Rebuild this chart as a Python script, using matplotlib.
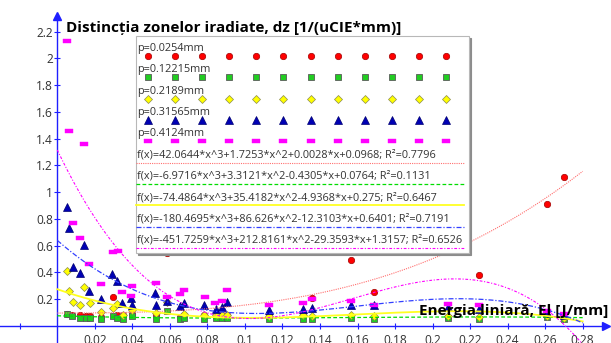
import numpy as np
import matplotlib
matplotlib.use("Agg")
import matplotlib.pyplot as plt
from matplotlib.lines import Line2D
from matplotlib.legend_handler import HandlerBase
from matplotlib.path import Path

plt.rcParams['font.family'] = ['Open Sans', 'DejaVu Sans']

# ---------------- data ----------------
series_labels = ["p=0.0254mm", "p=0.12215mm", "p=0.2189mm", "p=0.31565mm", "p=0.4124mm"]

red_x = [0.0050, 0.0077, 0.0121, 0.0153, 0.0174, 0.0231, 0.0295, 0.0320, 0.0348, 0.0397,
         0.0524, 0.0583, 0.0654, 0.0677, 0.0782, 0.0846, 0.0876, 0.0903, 0.1130, 0.1308,
         0.1356, 0.1564, 0.1688, 0.2084, 0.2248, 0.2609, 0.2701]
red_y = [0.090, 0.085, 0.080, 0.075, 0.075, 0.070, 0.217, 0.080, 0.080, 0.090,
         0.080, 0.542, 0.070, 0.080, 0.080, 0.075, 0.080, 0.085, 0.090, 0.100,
         0.212, 0.492, 0.254, 0.070, 0.380, 0.909, 1.115]

green_x = red_x
green_y = [0.088, 0.075, 0.063, 0.063, 0.063, 0.055, 0.075, 0.063, 0.055, 0.075,
           0.050, 0.112, 0.050, 0.063, 0.050, 0.063, 0.063, 0.063, 0.050, 0.050,
           0.050, 0.060, 0.055, 0.060, 0.050, 0.065, 0.050]

yellow_x = [0.0050, 0.0064, 0.0085, 0.0121, 0.0142, 0.0174, 0.0231, 0.0295, 0.0317, 0.0348,
            0.0397, 0.0524, 0.0583, 0.0677, 0.0782, 0.0846, 0.0876, 0.0903, 0.1130, 0.1308,
            0.1356, 0.1564, 0.1688, 0.2084, 0.2248, 0.2609, 0.2701]
yellow_y = [0.410, 0.262, 0.180, 0.160, 0.292, 0.172, 0.105, 0.135, 0.162, 0.080,
            0.118, 0.097, 0.180, 0.088, 0.080, 0.080, 0.085, 0.080, 0.075, 0.080,
            0.075, 0.080, 0.075, 0.075, 0.067, 0.075, 0.060]

blue_x = [0.0050, 0.0064, 0.0085, 0.0121, 0.0142, 0.0171, 0.0231, 0.0293, 0.0317, 0.0343,
          0.0393, 0.0397, 0.0521, 0.0524, 0.0583, 0.0654, 0.0677, 0.0782, 0.0846, 0.0876,
          0.0903, 0.1130, 0.1308, 0.1356, 0.1564, 0.1688, 0.2084, 0.2248, 0.2609, 0.2701]
blue_y = [0.886, 0.733, 0.442, 0.397, 0.604, 0.262, 0.205, 0.385, 0.335, 0.172,
          0.210, 0.160, 0.247, 0.160, 0.185, 0.150, 0.175, 0.160, 0.130, 0.142,
          0.180, 0.118, 0.130, 0.138, 0.155, 0.155, 0.140, 0.130, 0.100, 0.080]

magenta_x = [0.0053, 0.0064, 0.0082, 0.0121, 0.0144, 0.0171, 0.0231, 0.0295, 0.0325, 0.0343,
             0.0393, 0.0397, 0.0524, 0.0583, 0.0654, 0.0677, 0.0787, 0.0841, 0.0876, 0.0903,
             0.1130, 0.1308, 0.1356, 0.1564, 0.1688, 0.2084, 0.2248, 0.2609, 0.2701]
magenta_y = [2.131, 1.460, 0.771, 0.659, 1.360, 0.467, 0.312, 0.554, 0.561, 0.254,
             0.225, 0.300, 0.325, 0.217, 0.237, 0.272, 0.217, 0.172, 0.185, 0.272,
             0.155, 0.172, 0.205, 0.187, 0.160, 0.168, 0.155, 0.110, 0.093]

# cubic trend lines as printed in the legend (a3, a2, a1, a0) and R^2
trend_coeffs = [
    [42.0644, 1.7253, 0.0028, 0.0968],
    [-6.9716, 3.3121, -0.4305, 0.0764],
    [-74.4864, 35.4182, -4.9368, 0.275],
    [-180.4695, 86.626, -12.3103, 0.6401],
    [-451.7259, 212.8161, -29.3593, 1.3157],
]
trend_r2 = [0.7796, 0.1131, 0.6467, 0.7191, 0.6526]
trend_x_range = (0.0, 0.28)

x_ticks = [-0.02, 0.02, 0.04, 0.06, 0.08, 0.1, 0.12, 0.14, 0.16, 0.18, 0.2, 0.22, 0.24, 0.26, 0.28]
y_ticks = [0.2, 0.4, 0.6, 0.8, 1.0, 1.2, 1.4, 1.6, 1.8, 2.0, 2.2]

title_text = "Distincția zonelor iradiate, dz [1/(uCIE*mm)]"
xlabel_text = "Energia liniară, El [J/mm]"

# ---------------- styles ----------------
AXIS_BLUE = '#1f1fff'
TXT = '#333333'
rect = Path([(-1, -0.36), (1, -0.36), (1, 0.36), (-1, 0.36), (-1, -0.36)],
            [Path.MOVETO, Path.LINETO, Path.LINETO, Path.LINETO, Path.CLOSEPOLY])
marker_styles = [
    dict(marker='o', ms=4.6, mfc='#ff0000', mec='#a00000', mew=0.5),
    dict(marker='s', ms=4.6, mfc='#22cc22', mec='#5a5a5a', mew=0.6),
    dict(marker='D', ms=3.6, mfc='#ffff00', mec='#8a8a50', mew=0.5),
    dict(marker='^', ms=5.2, mfc='#0000b4', mec='#000070', mew=0.5),
    dict(marker=rect, ms=6.2, mfc='#ff00ff', mec='#ff00ff', mew=0.3),
]
trend_styles = [
    dict(color='#ff6f6f', lw=0.8, ls=(0, (1, 1))),
    dict(color='#00dd00', lw=0.9, ls=(0, (3, 1.8))),
    dict(color='#ffff22', lw=1.3, ls='-'),
    dict(color='#3340ff', lw=0.9, ls=(0, (4, 1.5, 1, 1.5))),
    dict(color='#ff00ff', lw=0.8, ls=(0, (2.5, 1.5, 1, 1.5))),
]


def trend_label(c, r2):
    a3, a2, a1, a0 = c
    def s(v):
        return ('+' if v >= 0 else '') + repr(v)
    return f"f(x)={repr(a3)}*x^3{s(a2)}*x^2{s(a1)}*x{s(a0)}; R²={r2}"


# legend rows: label text on top, handle (row of symbols / line) below
ROW_DY = -3.7          # pt below text baseline
MARK_DX0, MARK_STEP, N_MARK = 7.9, 19.5, 12
LINE_X = (-1.1, 235.5)


class RowHandler(HandlerBase):
    def create_artists(self, legend, orig_handle, xdescent, ydescent, width, height,
                       fontsize, trans):
        shift = legend.handletextpad * fontsize
        ls = orig_handle.get_linestyle()
        if ls in ('None', 'none', '', ' '):
            xs = shift + MARK_DX0 + MARK_STEP * np.arange(N_MARK)
        else:
            xs = shift + np.array(LINE_X)
        ys = np.full(len(xs), ROW_DY)
        art = Line2D(xs, ys)
        self.update_prop(art, orig_handle, legend)
        art.set_transform(trans)
        return [art]


# ---------------- figure ----------------
fig = plt.figure(figsize=(6.11, 3.43), dpi=100)
ax = fig.add_axes([0, 0, 1, 1])
ax.set_xlim(-0.03054, 0.2951)
ax.set_ylim(-0.127, 2.4365)

for side in ('top', 'right'):
    ax.spines[side].set_visible(False)
for side in ('left', 'bottom'):
    ax.spines[side].set_position(('data', 0))
    ax.spines[side].set_color(AXIS_BLUE)
    ax.spines[side].set_linewidth(1.0)
ax.spines['left'].set_bounds(-0.127, 2.31)
ax.spines['bottom'].set_bounds(-0.03054, 0.2925)

ax.set_xticks(x_ticks)
ax.set_xticklabels(['' if t <= 0 else f"{t:g}" for t in x_ticks])
ax.set_yticks(y_ticks)
ax.set_yticklabels([f"{t:g}" for t in y_ticks])
ax.tick_params(axis='both', direction='inout', length=4.0, width=0.8, color=AXIS_BLUE,
               labelcolor=TXT, labelsize=8.6)
ax.tick_params(axis='x', pad=4.0)
ax.tick_params(axis='y', pad=1.2)

# axis arrows
ax.plot(0, 0.952, marker='^', ms=5.8, color=AXIS_BLUE, transform=ax.get_xaxis_transform(),
        clip_on=False, zorder=6)
ax.plot(0.9918, 0, marker='>', ms=5.8, color=AXIS_BLUE, transform=ax.get_yaxis_transform(),
        clip_on=False, zorder=6)

xs_all = [red_x, green_x, yellow_x, blue_x, magenta_x]
ys_all = [red_y, green_y, yellow_y, blue_y, magenta_y]
scatter_handles = []
for xs, ys, st in zip(xs_all, ys_all, marker_styles):
    h, = ax.plot(xs, ys, linestyle='none', zorder=3, **st)
    scatter_handles.append(h)

tx = np.linspace(trend_x_range[0], trend_x_range[1], 400)
trend_handles = []
trend_labels = []
for c, r2, st in zip(trend_coeffs, trend_r2, trend_styles):
    h, = ax.plot(tx, np.polyval(c, tx), zorder=4, **st)
    trend_handles.append(h)
    trend_labels.append(trend_label(c, r2))

leg = ax.legend(scatter_handles + trend_handles, series_labels + trend_labels,
                loc='upper left', bbox_to_anchor=(136 / 611, 1 - 36 / 343),
                borderaxespad=0, handlelength=0, handletextpad=-0.55, borderpad=0.65,
                labelspacing=0.95, fontsize=7.8, fancybox=False, framealpha=1,
                edgecolor='#b8b8b8',
                shadow={'ox': 1.5, 'oy': -1.5, 'color': '#8c8c8c', 'alpha': 1},
                handler_map={Line2D: RowHandler()})
leg.get_frame().set_linewidth(0.8)
for t in leg.get_texts():
    t.set_color(TXT)

ax.text(66 / 611, 1 - 31.7 / 343, title_text, transform=ax.transAxes, ha='left',
        va='baseline', fontsize=11, fontweight='bold', color='black', zorder=7)
ax.text(608 / 611, 1 - 315 / 343, xlabel_text, transform=ax.transAxes, ha='right',
        va='baseline', fontsize=11, fontweight='bold', color='black', zorder=7)

fig.savefig('out.png', dpi=100, facecolor='white')
